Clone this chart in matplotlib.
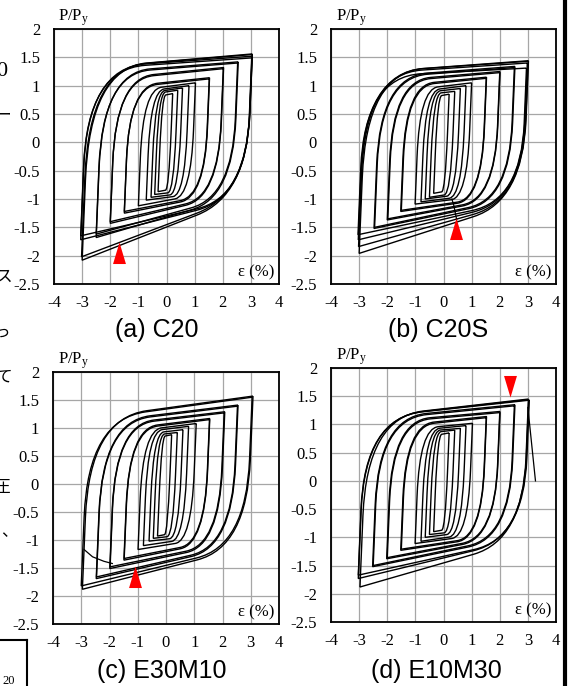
import numpy as np
import matplotlib
matplotlib.use("Agg")
import matplotlib.pyplot as plt
from matplotlib.path import Path
from matplotlib.patches import PathPatch

plt.rcParams["font.family"] = "serif"
plt.rcParams["font.serif"] = ["Liberation Serif"]
plt.rcParams["mathtext.fontset"] = "custom"
plt.rcParams["mathtext.rm"] = "Liberation Serif"
plt.rcParams["mathtext.it"] = "Liberation Serif:italic"
plt.rcParams["axes.unicode_minus"] = False

# axes ticks
x_ticks = [-4, -3, -2, -1, 0, 1, 2, 3, 4]
y_ticks = [2, 1.5, 1, 0.5, 0, -0.5, -1, -1.5, -2, -2.5]
y_tick_labels = ["2", "1.5", "1", "0.5", "0", "-0.5", "-1", "-1.5", "-2", "-2.5"]

# one loop per entry: strain extents (%), peak loads P/Py,
# and the load of the plastic edge at the opposite end of the loop
a_eps_lo = [-0.30, -0.42, -0.55, -0.72, -1.00, -1.50, -1.50, -2.00, -2.00, -2.50, -2.50, -3.00, -3.02, -3.05, -3.05]
a_eps_hi = [0.22, 0.40, 0.57, 0.80, 1.03, 1.53, 1.52, 2.03, 2.02, 2.55, 2.53, 3.05, 3.05, 3.04, 3.03]
a_p_lo = [-0.87, -0.92, -0.97, -1.02, -1.12, -1.25, -1.22, -1.43, -1.40, -1.68, -1.62, -2.08, -2.02, -1.72, -1.65]
a_p_hi = [0.86, 0.92, 0.96, 1.00, 1.05, 1.14, 1.12, 1.32, 1.30, 1.42, 1.40, 1.55, 1.56, 1.52, 1.49]
a_q_lo = [-0.82, -0.87, -0.90, -0.92, -0.93, -0.95, -0.93, -0.95, -0.93, -0.95, -0.93, -0.90, -0.88, -0.95, -0.95]
a_q_hi = [0.81, 0.86, 0.88, 0.90, 0.92, 0.98, 0.96, 1.12, 1.10, 1.22, 1.20, 1.30, 1.30, 1.30, 1.28]

b_eps_lo = [-0.35, -0.50, -0.65, -0.80, -1.01, -1.52, -1.50, -2.00, -1.98, -2.47, -2.45, -3.00, -3.02, -3.03, -3.04]
b_eps_hi = [0.20, 0.40, 0.60, 0.80, 1.00, 1.53, 1.52, 2.01, 2.00, 2.54, 2.52, 3.02, 3.01, 2.98, 2.95]
b_p_lo = [-0.90, -0.97, -1.00, -1.05, -1.09, -1.22, -1.20, -1.37, -1.35, -1.52, -1.50, -1.96, -1.84, -1.72, -1.63]
b_p_hi = [0.85, 0.90, 0.95, 1.00, 1.05, 1.15, 1.13, 1.25, 1.23, 1.34, 1.32, 1.44, 1.43, 1.40, 1.31]
b_q_lo = [-0.85, -0.90, -0.92, -0.95, -0.97, -1.00, -0.98, -1.00, -0.98, -1.00, -0.98, -1.00, -1.00, -1.00, -1.00]
b_q_hi = [0.80, 0.85, 0.88, 0.90, 0.93, 1.00, 0.98, 1.08, 1.06, 1.15, 1.13, 1.22, 1.22, 1.20, 1.15]

c_eps_lo = [-0.30, -0.45, -0.60, -0.80, -0.99, -1.49, -1.48, -1.99, -1.98, -2.47, -2.46, -2.96, -3.00]
c_eps_hi = [0.20, 0.40, 0.60, 0.80, 1.07, 1.55, 1.54, 2.08, 2.06, 2.55, 2.53, 3.08, 3.05]
c_p_lo = [-0.93, -0.97, -1.02, -1.10, -1.17, -1.36, -1.33, -1.51, -1.48, -1.69, -1.66, -1.88, -1.82]
c_p_hi = [0.88, 0.92, 0.97, 1.03, 1.08, 1.17, 1.15, 1.29, 1.27, 1.41, 1.39, 1.57, 1.55]
c_q_lo = [-0.88, -0.92, -0.95, -0.98, -1.00, -1.05, -1.03, -1.08, -1.06, -1.10, -1.08, -1.10, -1.08]
c_q_hi = [0.83, 0.87, 0.90, 0.93, 0.95, 0.98, 0.96, 1.05, 1.03, 1.10, 1.08, 1.15, 1.13]

d_eps_lo = [-0.35, -0.50, -0.65, -0.80, -1.01, -1.52, -1.50, -2.02, -2.00, -2.52, -2.50, -2.97, -3.03, -3.03]
d_eps_hi = [0.20, 0.40, 0.60, 0.80, 1.03, 1.53, 1.52, 2.01, 2.00, 2.54, 2.52, 3.02, 3.03, 3.05]
d_p_lo = [-0.90, -0.95, -1.00, -1.07, -1.11, -1.23, -1.21, -1.38, -1.36, -1.52, -1.50, -1.88, -1.73, -1.67]
d_p_hi = [0.85, 0.90, 0.93, 0.98, 1.02, 1.14, 1.12, 1.23, 1.21, 1.35, 1.33, 1.45, 1.44, 1.43]
d_q_lo = [-0.85, -0.90, -0.92, -0.95, -0.97, -1.00, -0.98, -1.00, -0.98, -1.00, -0.98, -1.02, -1.00, -1.00]
d_q_hi = [0.80, 0.85, 0.88, 0.90, 0.92, 0.98, 0.96, 1.05, 1.03, 1.10, 1.08, 1.11, 1.10, 1.10]

# extra partial curves (buckling / fracture)
b_extra_x = [0.30, 0.37, 0.47]
b_extra_y = [-1.00, -1.12, -1.37]
c_extra_x = [-2.90, -2.60, -2.20, -1.90]
c_extra_y = [-1.17, -1.30, -1.38, -1.42]
d_extra_x = [3.00, 3.27]
d_extra_y = [1.30, 0.00]

# red markers
mark_x = [-1.70, 0.43, -1.09, 2.36]
mark_y = [-1.76, -1.34, -1.47, 1.48]
mark_up = [True, True, True, False]

titles = ["(a) C20", "(b) C20S", "(c) E30M10", "(d) E10M30"]

K_EL = 12.0  # elastic slope, (P/Py) per %


def loop_path(e1, e2, pn, pp, qn, qp, f=0.58, gb=0.3, gt=0.35):
    st = (pp - qp) / (e2 - e1)
    sb = (qn - pn) / (e2 - e1)
    # unloading from + peak meets lower edge
    y1 = (pn + sb * (e2 - e1 - pp / K_EL)) / (1 - sb / K_EL)
    c1 = np.array([e2 - (pp - y1) / K_EL, y1])
    # reloading from - peak meets upper edge
    y2 = (qp - st * pn / K_EL) / (1 - st / K_EL)
    c2 = np.array([e1 + (y2 - pn) / K_EL, y2])
    top = np.array([e2, pp])
    bot = np.array([e1, pn])
    a1 = c1 + f * (top - c1)
    b1 = c1 + gb * (bot - c1)
    a2 = c2 + f * (bot - c2)
    b2 = c2 + gt * (top - c2)
    verts = [top, a1, c1, b1, bot, a2, c2, b2, top]
    codes = [Path.MOVETO, Path.LINETO, Path.CURVE3, Path.CURVE3, Path.LINETO,
             Path.LINETO, Path.CURVE3, Path.CURVE3, Path.LINETO]
    return Path(verts, codes)


fig = plt.figure(figsize=(5.71, 6.86), dpi=100)

W, H = 571.0, 686.0
boxes = [(54, 29, 279, 284), (331, 29, 556, 284), (53, 372, 279, 624), (331, 368, 556, 622)]
panels = [
    (a_eps_lo, a_eps_hi, a_p_lo, a_p_hi, a_q_lo, a_q_hi, None, None),
    (b_eps_lo, b_eps_hi, b_p_lo, b_p_hi, b_q_lo, b_q_hi, b_extra_x, b_extra_y),
    (c_eps_lo, c_eps_hi, c_p_lo, c_p_hi, c_q_lo, c_q_hi, c_extra_x, c_extra_y),
    (d_eps_lo, d_eps_hi, d_p_lo, d_p_hi, d_q_lo, d_q_hi, d_extra_x, d_extra_y),
]
title_pos = [(157, 337), (438, 337), (162, 678), (436, 678)]

up_tri = [(0, 0), (-0.6, -2), (0.6, -2)]
down_tri = [(0, 0), (-0.6, 2), (0.6, 2)]

for i, (l, t, r, b) in enumerate(boxes):
    ax = fig.add_axes([l / W, (H - b) / H, (r - l) / W, (b - t) / H])
    e_lo, e_hi, p_lo, p_hi, q_lo, q_hi, ex, ey = panels[i]
    for j in range(len(e_lo)):
        p = loop_path(e_lo[j], e_hi[j], p_lo[j], p_hi[j], q_lo[j], q_hi[j])
        ax.add_patch(PathPatch(p, facecolor="none", edgecolor="black", lw=1.0, zorder=3))
    if ex is not None:
        ax.plot(ex, ey, color="black", lw=0.9, zorder=3)
    ax.plot([mark_x[i]], [mark_y[i]], linestyle="none",
            marker=up_tri if mark_up[i] else down_tri,
            markersize=31, color="#ff0000", markeredgewidth=0, zorder=5)

    ax.set_xlim(-4, 4)
    ax.set_ylim(-2.5, 2)
    ax.set_xticks(x_ticks)
    ax.set_xticklabels([str(v) for v in x_ticks])
    ax.set_yticks(y_ticks)
    ax.set_yticklabels(y_tick_labels)
    ax.tick_params(length=0, labelsize=12)
    ax.tick_params(axis="x", pad=8)
    ax.tick_params(axis="y", pad=10)
    ax.grid(True, color="#a6a6a6", lw=0.9)
    ax.set_axisbelow(True)
    for s in ax.spines.values():
        s.set_linewidth(1.3)
    ax.text(0.02, 1.005, r"P/P$_\mathrm{y}$", transform=ax.transAxes,
            ha="left", va="bottom", fontsize=12)
    ax.text(0.98, 0.015, "ε (%)", transform=ax.transAxes,
            ha="right", va="bottom", fontsize=12)
    tx, ty = title_pos[i]
    fig.text(tx / W, (H - ty) / H, titles[i], ha="center", va="baseline",
             fontsize=18, family="Liberation Sans")

# page fragments around the figure
frag = [("0", 7, 72, 16), ("ー", 11, 115, 12), ("。", 6, 178, 12), ("ス", 12, 278, 12),
        ("っ", 10, 333, 12), ("て", 12, 378, 12), ("圧", 10, 487, 12), ("、", 18, 532, 12)]
for s, x, y, fs in frag:
    fig.text(x / W, (H - y) / H, s, ha="right", va="center", fontsize=fs,
             family=["Liberation Serif", "Noto Sans CJK JP"])
fig.add_artist(plt.Line2D([0, 27 / W], [(H - 640) / H] * 2, color="black", lw=1.5))
fig.add_artist(plt.Line2D([27 / W] * 2, [0, (H - 640) / H], color="black", lw=1.5))
fig.text(15 / W, (H - 681) / H, "20", ha="right", va="center", fontsize=9)
fig.add_artist(plt.Line2D([564.5 / W] * 2, [0, 1], color="black", lw=3))

fig.savefig("out.png", dpi=100)
